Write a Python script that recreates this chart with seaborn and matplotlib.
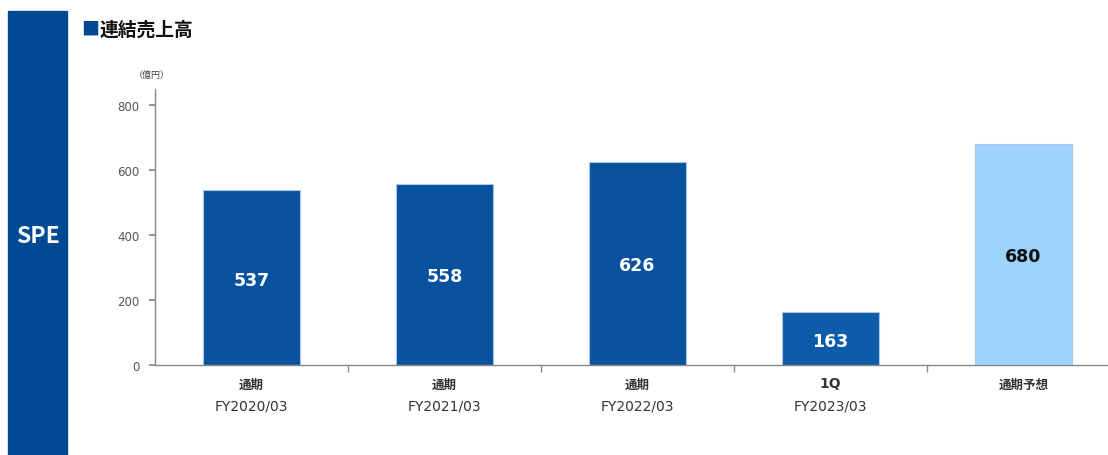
import matplotlib
matplotlib.use("Agg")
import matplotlib.pyplot as plt
import matplotlib.patches as mpatches
import seaborn as sns
import pandas as pd

sns.set_theme(style="white")
plt.rcParams['font.family'] = ['Noto Sans CJK JP', 'DejaVu Sans']

# Consolidated net sales (100 million yen)
periods = ["通期", "通期", "通期", "1Q", "通期予想"]
fiscal_years = ["FY2020/03", "FY2021/03", "FY2022/03", "FY2023/03", ""]
sales = [537, 558, 626, 163, 680]
bar_colors = ["#07519F", "#07519F", "#07519F", "#0E5BAA", "#9ED3FF"]
label_colors = ["white", "white", "white", "white", "#111111"]

df = pd.DataFrame({"key": [f"{p}_{i}" for i, p in enumerate(periods)], "sales": sales})

W, H = 1108, 456
fig = plt.figure(figsize=(W / 100, H / 100), dpi=100)

# left side band with segment name
fig.patches.append(mpatches.Rectangle((8 / W, 0), 59 / W, (H - 12) / H,
                                      transform=fig.transFigure, color="#004A94", zorder=0))
fig.text(38 / W, 1 - 237 / H, "SPE", color="white", fontsize=16.5, fontweight="bold",
         ha="center", va="center")

# title
fig.text(81 / W, 1 - 30 / H, "■", color="#004A94", fontsize=13, ha="left", va="center")
fig.text(100 / W, 1 - 30 / H, "連結売上高", color="#111111", fontsize=13.5, fontweight="bold",
         ha="left", va="center")

ymax = 850
ax_h = ymax * 0.325            # axes height in pixels
dpp = ymax / ax_h              # data units per pixel on the y axis
ax = fig.add_axes([155 / W, 90 / H, 965 / W, ax_h / H])
sns.barplot(data=df, x="key", y="sales", hue="key", palette=bar_colors, legend=False,
            width=0.5, ax=ax, edgecolor="#A9C6E6", linewidth=0.8, saturation=1)

ax.set_xlim(-0.5, 4.5)
ax.set_ylim(0, ymax)
ax.set_yticks([0, 200, 400, 600, 800])
ax.tick_params(axis="y", labelsize=8.5, labelcolor="#555555", length=4, color="#888888",
               direction="out", left=True, pad=7)
for lbl in ax.get_yticklabels():
    lbl.set_family("DejaVu Sans")
ax.set_xticks([0.5, 1.5, 2.5, 3.5], minor=True)
ax.set_xticks(range(5))
ax.set_xticklabels([])
ax.tick_params(axis="x", which="major", length=0)
ax.tick_params(axis="x", which="minor", length=5, color="#888888", direction="out", bottom=True)
ax.set_xlabel("")
ax.set_ylabel("")
for side in ["top", "right"]:
    ax.spines[side].set_visible(False)
for side in ["left", "bottom"]:
    ax.spines[side].set_color("#888888")
    ax.spines[side].set_linewidth(1)

# category labels on two lines
for i, (p, fy) in enumerate(zip(periods, fiscal_years)):
    if p.isascii():
        ax.text(i, -18 * dpp, p, ha="center", va="center", fontsize=10,
                fontweight="bold", color="#333333", family="DejaVu Sans", clip_on=False)
    else:
        ax.text(i, -19 * dpp, p, ha="center", va="center",
                fontsize=9, fontweight="bold", color="#333333", clip_on=False)
    if fy:
        ax.text(i, -41 * dpp, fy, ha="center", va="center",
                fontsize=10, color="#333333", family="DejaVu Sans", clip_on=False)

# value labels in the middle of each bar
for i, (v, c) in enumerate(zip(sales, label_colors)):
    ax.text(i, v / 2 - 2 * dpp, f"{v}", ha="center", va="center", fontsize=12.5,
            fontweight="bold", color=c, family="DejaVu Sans")

ax.text(-3 / 965, ymax + 14 * dpp, "（億円）", transform=ax.get_yaxis_transform(),
        ha="center", va="center", fontsize=6.5, color="#444444", clip_on=False)

fig.savefig("out.png", dpi=100)
